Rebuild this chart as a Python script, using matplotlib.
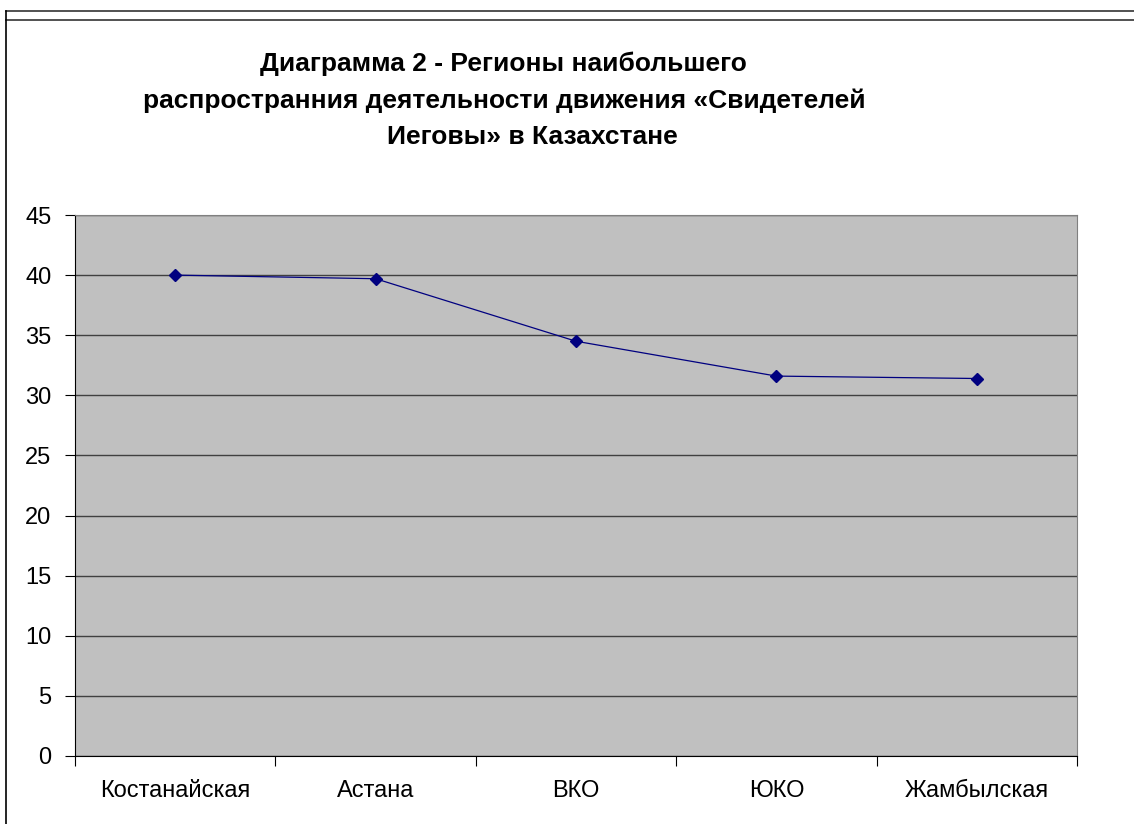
import matplotlib
matplotlib.use("Agg")
import matplotlib.pyplot as plt
from matplotlib.lines import Line2D

categories = ["Костанайская", "Астана", "ВКО", "ЮКО", "Жамбылская"]
values = [40.0, 39.7, 34.5, 31.6, 31.4]
yticks = [0, 5, 10, 15, 20, 25, 30, 35, 40, 45]

plt.rcParams['font.family'] = ['Liberation Sans', 'DejaVu Sans']

W, H = 1134, 824
fig = plt.figure(figsize=(W / 100, H / 100), dpi=100)
fig.patch.set_facecolor('white')

# figure frame lines
fig.add_artist(Line2D([6 / W, 1], [1 - 11 / H, 1 - 11 / H], color='#333333', lw=1.2))
fig.add_artist(Line2D([6 / W, 1], [1 - 20 / H, 1 - 20 / H], color='#333333', lw=1.2))
fig.add_artist(Line2D([6 / W, 6 / W], [0, 1 - 11 / H], color='black', lw=1.2))

left, right, top, bottom = 75, 1077, 215, 756
ax = fig.add_axes([left / W, 1 - bottom / H, (right - left) / W, (bottom - top) / H])
ax.set_facecolor('#C0C0C0')

x = list(range(len(categories)))
ax.plot(x, values, color='#000080', lw=0.9, marker='D', markersize=6,
        markerfacecolor='#000080', markeredgecolor='#000080', zorder=3)

ax.set_xlim(-0.5, len(categories) - 0.5)
ax.set_ylim(0, 45)
ax.set_yticks(yticks)
ax.set_yticklabels([str(v) for v in yticks], fontsize=17)
ax.yaxis.grid(True, color='#404040', lw=1.0)
ax.set_axisbelow(True)

ax.set_xticks([i - 0.5 for i in range(len(categories) + 1)])
ax.set_xticklabels([])
ax.set_xticks(x, minor=True)
ax.set_xticklabels(categories, minor=True, fontsize=17)
ax.tick_params(axis='x', which='minor', length=0, pad=17)
ax.tick_params(axis='x', which='major', length=7, direction='out', color='black')
ax.tick_params(axis='y', length=7, direction='out', color='black', pad=10)

for s in ['top', 'right']:
    ax.spines[s].set_visible(True)
    ax.spines[s].set_color('#808080')
ax.spines['left'].set_color('black')
ax.spines['bottom'].set_color('black')

title_lines = [
    ("Диаграмма 2 - Регионы наибольшего", 503, 64),
    ("распространния деятельности движения «Свидетелей", 504, 101),
    ("Иеговы» в Казахстане", 532, 137),
]
for t, cx, cy in title_lines:
    fig.text(cx / W, 1 - cy / H, t, ha='center', va='center', fontsize=19, fontweight='bold')

fig.savefig("out.png", dpi=100)
